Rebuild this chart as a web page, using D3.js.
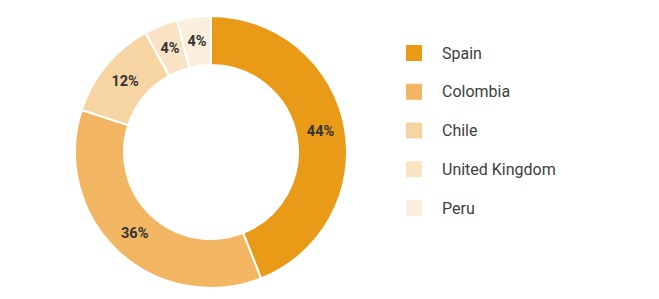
<!DOCTYPE html>
<html>
<head>
<meta charset="utf-8">
<script src="https://cdn.jsdelivr.net/npm/d3@7"></script>
<style>
  body { margin: 0; background: #fff; }
  svg { display: block; font-family: Roboto, "Open Sans", sans-serif; }
  .slice-label { font-size: 14.5px; font-weight: bold; fill: #333; }
  .legend text { font-size: 16px; fill: #404040; }
</style>
</head>
<body>
<svg class="donut"></svg>
<script>
var countries = ["Spain", "Colombia", "Chile", "United Kingdom", "Peru"];
var shares = [44, 36, 12, 4, 4];
var colours = ["#e99a17", "#f2b562", "#f7d5a2", "#fae3c5", "#fbeedc"];

var width = 659,
    height = 299,
    cx = 211,
    cy = 152,
    outerR = 136,
    innerR = 87;

var svg = d3.select("svg.donut")
    .attr("width", width)
    .attr("height", height);

var colour = d3.scaleOrdinal()
    .domain(countries)
    .range(colours);

var pie = d3.pie()
    .sort(null)
    .value(function(d) { return d.value; });

var arc = d3.arc()
    .innerRadius(innerR)
    .outerRadius(outerR);

var data = countries.map(function(c, i) { return {name: c, value: shares[i]}; });

var g = svg.append("g")
    .attr("transform", "translate(" + cx + "," + cy + ")");

g.selectAll("path")
    .data(pie(data))
  .enter().append("path")
    .attr("d", arc)
    .attr("fill", function(d) { return colour(d.data.name); })
    .attr("stroke", "#fff")
    .attr("stroke-width", 2);

g.selectAll("text")
    .data(pie(data))
  .enter().append("text")
    .attr("class", "slice-label")
    .attr("transform", function(d) { return "translate(" + arc.centroid(d) + ")"; })
    .attr("text-anchor", "middle")
    .attr("dy", "0.35em")
    .text(function(d) { return d.data.value + "%"; });

// legend
var row = d3.scalePoint()
    .domain(countries)
    .range([53, 208]);

var legend = svg.append("g")
    .attr("class", "legend")
    .selectAll("g")
    .data(countries)
  .enter().append("g")
    .attr("transform", function(d) { return "translate(406," + row(d) + ")"; });

legend.append("rect")
    .attr("x", 0)
    .attr("y", -8)
    .attr("width", 16)
    .attr("height", 16)
    .attr("fill", function(d) { return colour(d); });

legend.append("text")
    .attr("x", 36)
    .attr("dy", "0.35em")
    .text(function(d) { return d; });
</script>
</body>
</html>
